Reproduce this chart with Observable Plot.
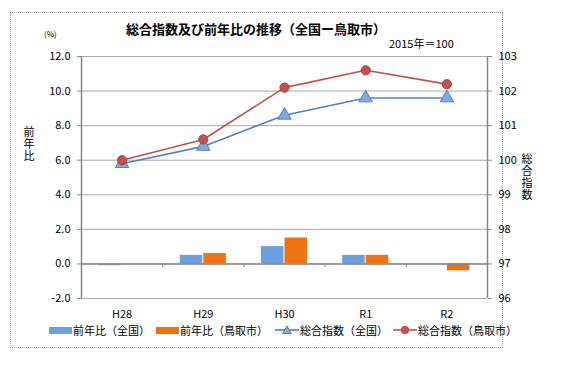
<!DOCTYPE html>
<html><head><meta charset="utf-8">
<script src="https://cdn.jsdelivr.net/npm/d3@7"></script>
<script src="https://cdn.jsdelivr.net/npm/@observablehq/plot@0.6"></script>
<style>
body{margin:0;background:#fff;font-family:"Noto Sans CJK JP","Liberation Sans",sans-serif;}
#wrap{position:relative;width:570px;height:366px;}
.t{position:absolute;white-space:nowrap;color:#000;}
#frame{position:absolute;left:10px;top:12px;width:491px;height:334px;border:1px dotted #9a9a9a;}
.lg{position:absolute;top:322px;font-size:11px;display:flex;align-items:center;height:16px;}
.v{writing-mode:vertical-rl;text-orientation:upright;letter-spacing:1px;}
</style></head>
<body><div id="wrap"><div id="frame"></div></div>
<script>
const categories = ["H28", "H29", "H30", "R1", "R2"];
const yoyNational = [-0.1, 0.5, 1.0, 0.5, 0.0];
const yoyTottori = [0.0, 0.6, 1.5, 0.5, -0.4];
const indexNational = [99.9, 100.4, 101.3, 101.8, 101.8];
const indexTottori = [100.0, 100.6, 102.1, 102.6, 102.2];
const leftTicks = [-2, 0, 2, 4, 6, 8, 10, 12];
const rightTicks = [96, 97, 98, 99, 100, 101, 102, 103];
const seriesNames = ["前年比（全国）", "前年比（鳥取市）", "総合指数（全国）", "総合指数（鳥取市）"];

const C = {blue:"#6b9fe0", orange:"#ee7412", lineBlue:"#4f81c7", lineRed:"#c0504d", grid:"#a4aca4", axis:"#878787"};
const toLeft = v => (v - 96) * 2 - 2;
const fromLeft = p => (p + 2) / 2 + 96;
const half = 0.29;

const bars = [];
categories.forEach((c, i) => {
  bars.push({x1: i + 0.5 - half, x2: i + 0.5, v: yoyNational[i], s: "n"});
  bars.push({x1: i + 0.5, x2: i + 0.5 + half, v: yoyTottori[i], s: "t"});
});
const natPts = categories.map((c, i) => ({x: i + 0.5, y: toLeft(indexNational[i])}));
const totPts = categories.map((c, i) => ({x: i + 0.5, y: toLeft(indexTottori[i])}));

const chart = Plot.plot({
  width: 570, height: 366,
  marginLeft: 81, marginRight: 83, marginTop: 56, marginBottom: 68,
  x: {type: "linear", domain: [0, categories.length], axis: null},
  y: {domain: [-2, 12], axis: null},
  style: {fontFamily: '"Noto Sans CJK JP","Liberation Sans",sans-serif', fontSize: "11px", background: "transparent", color: "#000"},
  marks: [
    Plot.ruleY(leftTicks, {stroke: C.grid, strokeWidth: 1}),
    Plot.rectY(bars, {x1: "x1", x2: "x2", y1: 0, y2: "v", fill: d => d.s === "n" ? C.blue : C.orange, insetLeft: 0.5, insetRight: 0.5}),
    Plot.ruleY([0], {stroke: C.axis, strokeWidth: 1.5}),
    Plot.ruleX(d3.range(1, categories.length), {y1: 0, y2: -0.22, stroke: C.axis}),
    Plot.ruleX([0, categories.length], {y1: -2, y2: 12, stroke: C.axis, strokeWidth: 1.5}),
    Plot.line(natPts, {x: "x", y: "y", stroke: C.lineBlue, strokeWidth: 1.6}),
    Plot.line(totPts, {x: "x", y: "y", stroke: C.lineRed, strokeWidth: 1.6}),
    Plot.dot(natPts, {x: "x", y: "y", symbol: "triangle", r: 5, fill: "#7eaae2", stroke: "#4f81c7", strokeWidth: 1}),
    Plot.dot(totPts, {x: "x", y: "y", r: 4.6, fill: "#c4504c", stroke: "#b03c3a", strokeWidth: 1}),
    Plot.axisY(leftTicks, {anchor: "left", tickSize: 4, tickPadding: 7, tickFormat: d => d.toFixed(1), stroke: C.axis, label: null}),
    Plot.axisY(rightTicks.map(toLeft), {anchor: "right", tickSize: 4, tickPadding: 7, tickFormat: d => String(Math.round(fromLeft(d))), stroke: C.axis, label: null}),
    Plot.axisX(categories.map((c, i) => i + 0.5), {anchor: "bottom", tickSize: 0, tickPadding: 12, tickFormat: d => categories[Math.floor(d)], label: null})
  ]
});
chart.style.position = "absolute";
chart.style.left = "0px";
chart.style.top = "0px";
const wrap = document.getElementById("wrap");
wrap.appendChild(chart);

function addText(txt, style, cls) {
  const el = document.createElement("div");
  el.className = "t" + (cls ? " " + cls : "");
  el.textContent = txt;
  Object.assign(el.style, style);
  wrap.appendChild(el);
  return el;
}
addText("総合指数及び前年比の推移（全国ー鳥取市）", {left: "0px", width: "512px", textAlign: "center", top: "20px", fontSize: "13px", fontWeight: "bold", lineHeight: "18px"});
addText("(%)", {left: "44px", top: "28px", fontSize: "8px", lineHeight: "12px"});
addText("2015年＝100", {left: "389px", top: "36px", fontSize: "11px", lineHeight: "14px"});
addText("前年比", {left: "23px", top: "126px", fontSize: "11px", lineHeight: "12px"}, "v");
addText("総合指数", {left: "521px", top: "153px", fontSize: "11px", lineHeight: "12px"}, "v");

function legendItem(left, swatch, name) {
  const el = document.createElement("div");
  el.className = "lg";
  el.style.left = left + "px";
  el.innerHTML = swatch + '<span style="margin-left:1px">' + name + '</span>';
  wrap.appendChild(el);
}
const rectSw = c => `<span style="display:inline-block;width:23px;height:7px;background:${c}"></span>`;
const lineSw = (c, f, sym) => `<svg width="24" height="10" style="display:block">
  <line x1="0" y1="5" x2="24" y2="5" stroke="${c}" stroke-width="1.6"/>${sym === "tri" ?
  `<path d="M12,1 L16.3,8.5 L7.7,8.5Z" fill="${f}" stroke="${c}"/>` :
  `<circle cx="12" cy="5" r="3.8" fill="${f}" stroke="${c}"/>`}</svg>`;
legendItem(49, rectSw(C.blue), seriesNames[0]);
legendItem(156, rectSw(C.orange), seriesNames[1]);
legendItem(275, lineSw(C.lineBlue, "#7eaae2", "tri"), seriesNames[2]);
legendItem(393, lineSw(C.lineRed, "#c4504c", "dot"), seriesNames[3]);
</script></body></html>
